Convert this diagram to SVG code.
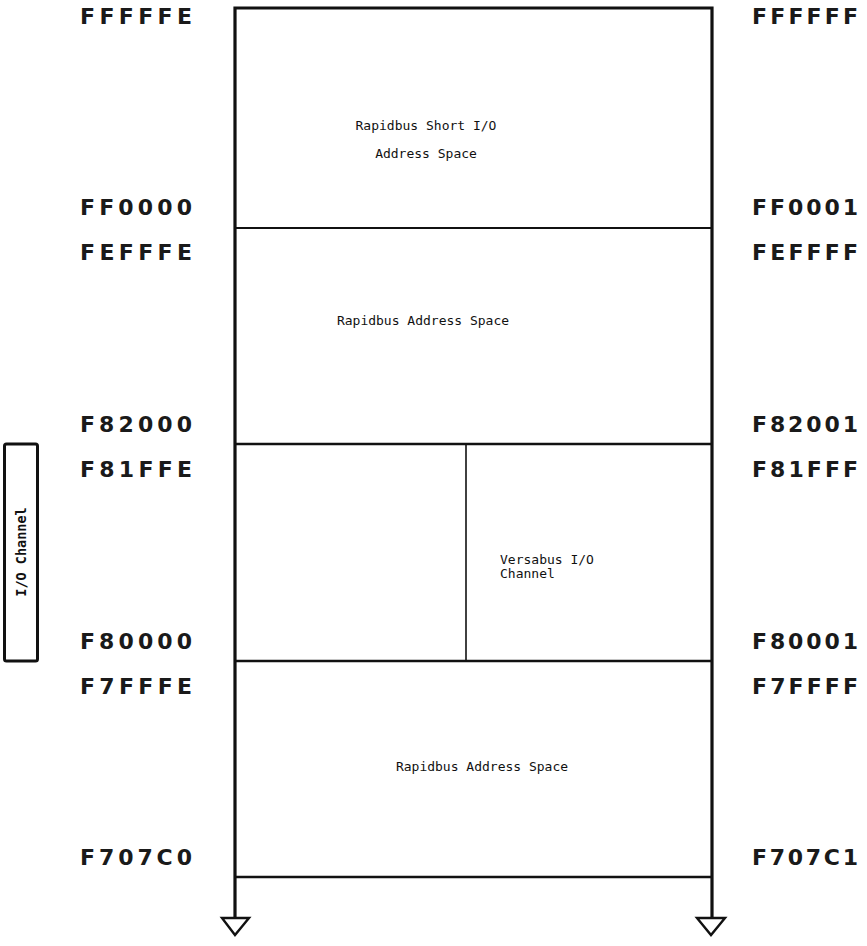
<svg xmlns="http://www.w3.org/2000/svg" width="867" height="946" viewBox="0 0 867 946">
<style>
.addr{font-family:"DejaVu Sans",sans-serif;font-size:22px;font-weight:bold;fill:#1a1a1a;}
.in{font-family:"DejaVu Sans Mono",monospace;font-size:13px;fill:#111;}
.ln{stroke:#111;fill:none;}
</style>
<rect width="867" height="946" fill="#fff"/>
<g id="frame">
<path class="ln" d="M235,918 V8 H712 V918" stroke-width="3.2"/>
</g>
<g id="connectors">
<line class="ln" x1="235" y1="228" x2="712" y2="228" stroke-width="2.2"/>
<line class="ln" x1="235" y1="444" x2="712" y2="444" stroke-width="2.4"/>
<line class="ln" x1="235" y1="661" x2="712" y2="661" stroke-width="2.4"/>
<line class="ln" x1="235" y1="877" x2="712" y2="877" stroke-width="2.6"/>
<line class="ln" x1="466" y1="444" x2="466" y2="661" stroke-width="1.6"/>
<polygon class="ln" points="222,918 249,918 235,935" stroke-width="2.4" stroke-linejoin="miter"/>
<polygon class="ln" points="697,918 725,918 711,935" stroke-width="2.4" stroke-linejoin="miter"/>
</g>
<g id="io-channel">
<rect class="ln" x="4.5" y="444" width="33" height="217" rx="2" stroke-width="3"/>
<text transform="translate(25.5,552) rotate(-90)" text-anchor="middle" font-family="DejaVu Sans Mono,monospace" font-size="13.5" font-weight="bold" fill="#111">I/O Channel</text>
</g>
<g id="short-io">
<text class="in" x="426" y="130" text-anchor="middle">Rapidbus Short I/O</text>
<text class="in" x="426" y="158" text-anchor="middle">Address Space</text>
</g>
<g id="rapidbus-upper">
<text class="in" x="423" y="325" text-anchor="middle">Rapidbus Address Space</text>
</g>
<g id="versabus">
<text class="in" x="500" y="564" font-size="12">Versabus I/O</text>
<text class="in" x="500" y="578" font-size="12">Channel</text>
</g>
<g id="rapidbus-lower">
<text class="in" x="482" y="771" text-anchor="middle">Rapidbus Address Space</text>
</g>
<g id="left-labels">
<text class="addr" x="80" y="24" textLength="112" lengthAdjust="spacing">FFFFFE</text>
<text class="addr" x="80" y="215" textLength="112" lengthAdjust="spacing">FF0000</text>
<text class="addr" x="80" y="260" textLength="112" lengthAdjust="spacing">FEFFFE</text>
<text class="addr" x="80" y="432" textLength="112" lengthAdjust="spacing">F82000</text>
<text class="addr" x="80" y="477" textLength="112" lengthAdjust="spacing">F81FFE</text>
<text class="addr" x="80" y="649" textLength="112" lengthAdjust="spacing">F80000</text>
<text class="addr" x="80" y="694" textLength="112" lengthAdjust="spacing">F7FFFE</text>
<text class="addr" x="80" y="865" textLength="112" lengthAdjust="spacing">F707C0</text>
</g>
<g id="right-labels">
<text class="addr" x="752" y="24" textLength="106" lengthAdjust="spacing">FFFFFF</text>
<text class="addr" x="752" y="215" textLength="106" lengthAdjust="spacing">FF0001</text>
<text class="addr" x="752" y="260" textLength="106" lengthAdjust="spacing">FEFFFF</text>
<text class="addr" x="752" y="432" textLength="106" lengthAdjust="spacing">F82001</text>
<text class="addr" x="752" y="477" textLength="106" lengthAdjust="spacing">F81FFF</text>
<text class="addr" x="752" y="649" textLength="106" lengthAdjust="spacing">F80001</text>
<text class="addr" x="752" y="694" textLength="106" lengthAdjust="spacing">F7FFFF</text>
<text class="addr" x="752" y="865" textLength="106" lengthAdjust="spacing">F707C1</text>
</g>
</svg>
